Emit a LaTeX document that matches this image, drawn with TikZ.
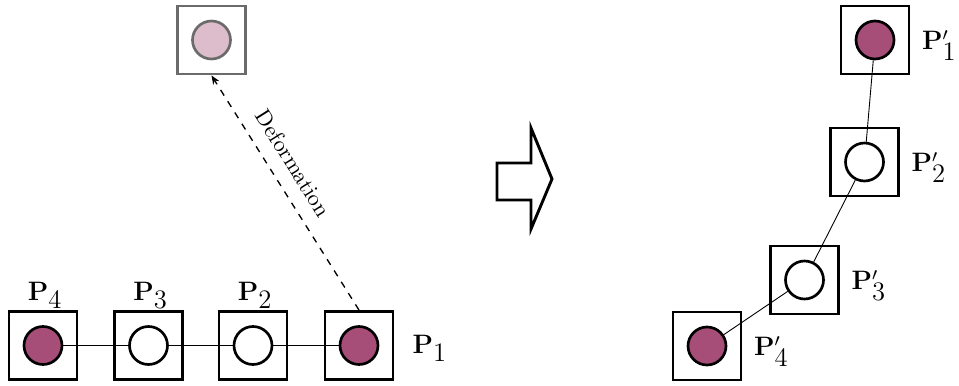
\documentclass[tikz,border=0pt]{standalone}
\usetikzlibrary{positioning,arrows.meta}
\definecolor{plum}{RGB}{166,78,120}
\tikzset{
	pbox/.style={draw,line width=1.3pt,minimum size=30.6pt,inner sep=0pt},
	pdot/.style={draw,circle,line width=1.2pt,minimum size=17.1pt,inner sep=0pt,fill=white},
	pfull/.style={pdot,fill=plum},
	plabel/.style={font=\fontsize{11.5}{14}\selectfont,inner sep=0pt},
}
\begin{document}
\begin{tikzpicture}[x=0.45pt,y=-0.45pt]
	\useasboundingbox (0,0) rectangle (959,385);
	% points before
	\foreach \i/\x/\s in {4/43/pfull,3/148.5/pdot,2/253/pdot,1/359/pfull}{
		\node[pbox] (b\i) at (\x,345.5) {};
		\node[\s] (c\i) at (\x,345.5) {};
	}
	\foreach \a/\b in {4/3,3/2,2/1} \draw (c\a) -- (c\b);
	\node[plabel,anchor=base] (l4) at ([xshift=1pt,yshift=4.4pt]b4.north) {$\mathbf{P}_{\textstyle 4}$};
	\node[plabel,anchor=base] (l3) at ([xshift=1pt,yshift=4.4pt]b3.north) {$\mathbf{P}_{\textstyle 3}$};
	\node[plabel,anchor=base] (l2) at ([xshift=1pt,yshift=4.4pt]b2.north) {$\mathbf{P}_{\textstyle 2}$};
	\node[plabel,anchor=base west] (l1) at ([xshift=8pt,yshift=-3.4pt]b1.east) {$\mathbf{P}_{\textstyle 1}$};
	% ghost
	\node[pbox,draw=black!58] (g) at (211.5,40) {};
	\node[pdot,draw=black!58,fill=plum!38] (gc) at (211.5,40) {};
	\draw[dashed,semithick,-{Stealth[length=4pt,width=3.2pt]}] (b1.north) -- (g.south)
		node[sloped,above=3pt,pos=0.575] {Deformation};
	% big arrow
	\draw[line width=1.3pt] (497,163) -- (531,163) -- (531,128) -- (552,179)
		-- (531,229) -- (531,200) -- (497,200) -- cycle;
	% points after
	\foreach \i/\x/\y/\s in {1/875/40/pfull,2/864.5/162/pdot,3/804.5/280/pdot,4/707/346/pfull}{
		\node[pbox] (q\i) at (\x,\y) {};
		\node[\s] (d\i) at (\x,\y) {};
		\node[plabel,anchor=base west] (m\i) at ([xshift=5pt,yshift=-4.4pt]q\i.east) {$\mathbf{P}'_{\textstyle \i}$};
	}
	\foreach \a/\b in {1/2,2/3,3/4} \draw (d\a) -- (d\b);
\end{tikzpicture}
\end{document}
